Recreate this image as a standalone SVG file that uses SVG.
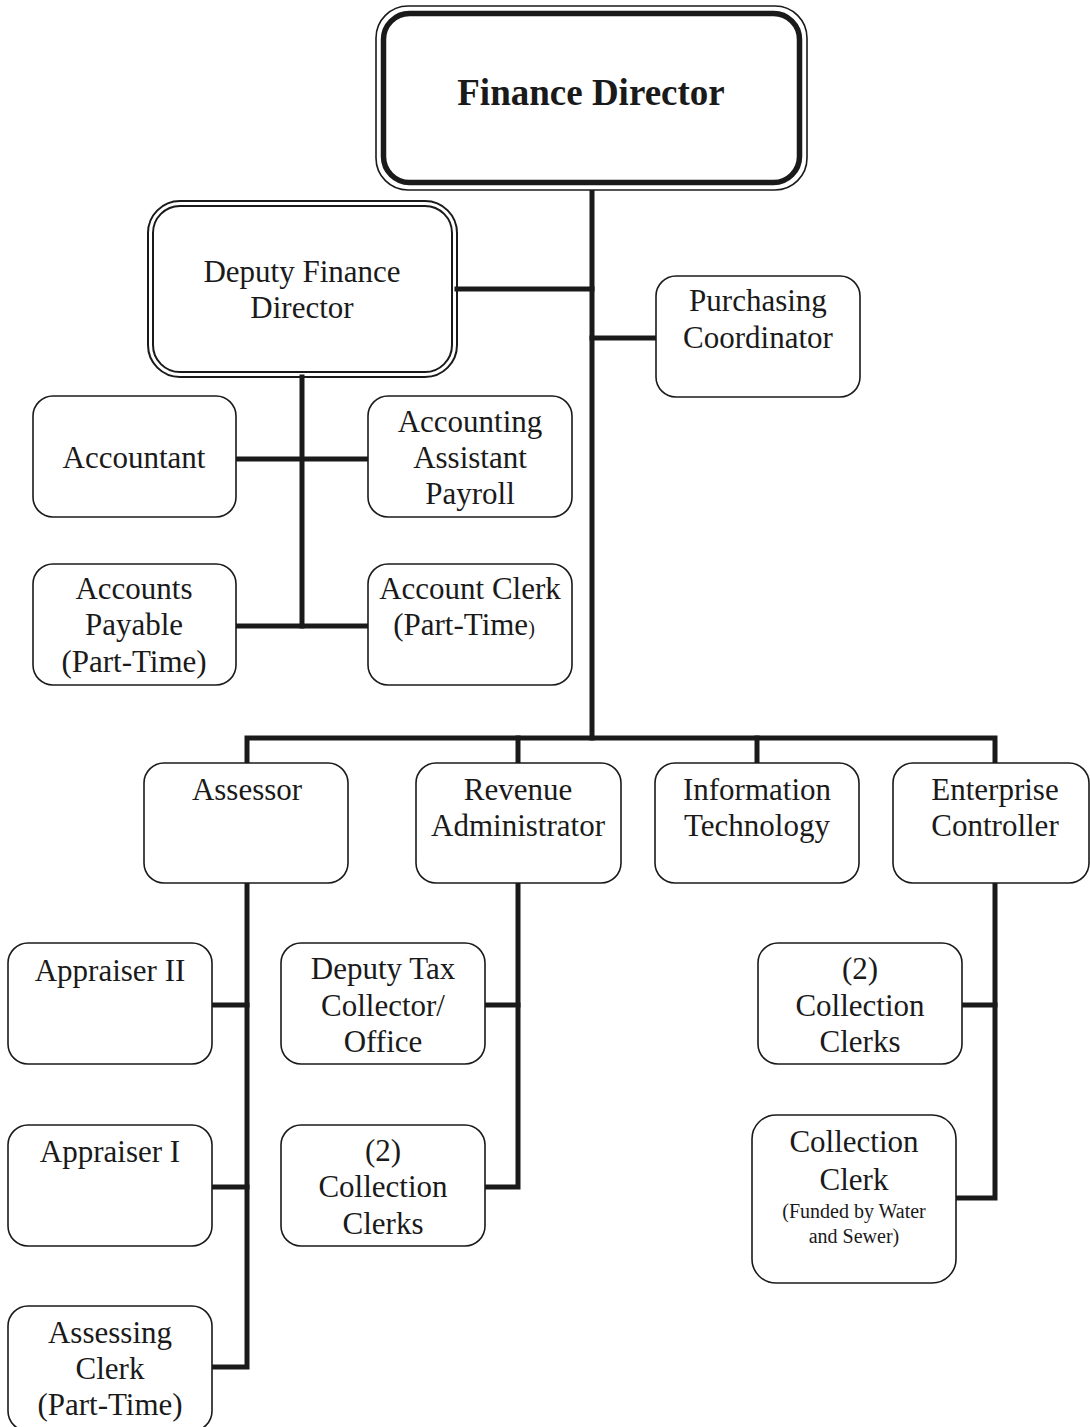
<svg xmlns="http://www.w3.org/2000/svg" width="1090" height="1427" viewBox="0 0 1090 1427">
  <style>
    .box { fill: #ffffff; stroke: #1a1a1a; stroke-width: 1.6; }
    .dbl { fill: none; stroke: #1a1a1a; stroke-width: 2; }
    .lbl { font-family: "Liberation Serif", "Times New Roman", serif; font-size: 31px; fill: #1a1a1a; text-anchor: middle; }
    .small { font-size: 20px; }
    .head { font-family: "Liberation Serif", "Times New Roman", serif; font-size: 37px; font-weight: bold; fill: #1a1a1a; text-anchor: middle; }
    .wire { fill: none; stroke: #1a1a1a; stroke-width: 5; stroke-linecap: square; stroke-linejoin: miter; }
  </style>
  <rect width="1090" height="1427" fill="#ffffff"/>

  <!-- reporting lines -->
  <g id="connectors" class="wire">
    <path d="M592 190 V738"/>
    <path d="M457 289 H592"/>
    <path d="M592 338 H656"/>
    <path d="M302 377 V626"/>
    <path d="M236 459 H368"/>
    <path d="M236 626 H368"/>
    <path d="M247 763 V738 H995 V763"/>
    <path d="M518 738 V763"/>
    <path d="M757 738 V763"/>
    <path d="M247 883 V1367 H212"/>
    <path d="M212 1005 H247"/>
    <path d="M212 1187 H247"/>
    <path d="M518 883 V1187 H485"/>
    <path d="M485 1005 H518"/>
    <path d="M995 883 V1198 H956"/>
    <path d="M962 1005 H995"/>
  </g>

  <g id="finance-director">
    <rect x="376" y="6" width="431" height="184" rx="32" fill="#ffffff" stroke="#1a1a1a" stroke-width="1.6"/>
    <rect x="383.5" y="13.5" width="416" height="169" rx="26" fill="none" stroke="#1a1a1a" stroke-width="5.5"/>
    <text class="head" x="591" y="105">Finance Director</text>
  </g>

  <g id="deputy-finance-director">
    <rect x="148" y="201" width="309" height="176" rx="32" fill="#ffffff" class="dbl"/>
    <rect x="153" y="206" width="299" height="166" rx="27" class="dbl"/>
    <text class="lbl" x="302" y="282">Deputy Finance</text>
    <text class="lbl" x="302" y="318">Director</text>
  </g>

  <g id="purchasing-coordinator">
    <rect class="box" x="656" y="276" width="204" height="121" rx="20"/>
    <text class="lbl" x="758" y="311">Purchasing</text>
    <text class="lbl" x="758" y="348">Coordinator</text>
  </g>

  <g id="accountant">
    <rect class="box" x="33" y="396" width="203" height="121" rx="20"/>
    <text class="lbl" x="134" y="468">Accountant</text>
  </g>

  <g id="accounting-assistant-payroll">
    <rect class="box" x="368" y="396" width="204" height="121" rx="20"/>
    <text class="lbl" x="470" y="432">Accounting</text>
    <text class="lbl" x="470" y="468">Assistant</text>
    <text class="lbl" x="470" y="504">Payroll</text>
  </g>

  <g id="accounts-payable">
    <rect class="box" x="33" y="564" width="203" height="121" rx="20"/>
    <text class="lbl" x="134" y="599">Accounts</text>
    <text class="lbl" x="134" y="635">Payable</text>
    <text class="lbl" x="134" y="672">(Part-Time)</text>
  </g>

  <g id="account-clerk">
    <rect class="box" x="368" y="564" width="204" height="121" rx="20"/>
    <text class="lbl" x="470" y="599">Account Clerk</text>
    <text class="lbl" x="464" y="635">(Part-Time<tspan class="small">)</tspan></text>
  </g>

  <g id="assessor">
    <rect class="box" x="144" y="763" width="204" height="120" rx="20"/>
    <text class="lbl" x="247" y="800">Assessor</text>
  </g>

  <g id="revenue-administrator">
    <rect class="box" x="416" y="763" width="205" height="120" rx="20"/>
    <text class="lbl" x="518" y="800">Revenue</text>
    <text class="lbl" x="518" y="836">Administrator</text>
  </g>

  <g id="information-technology">
    <rect class="box" x="655" y="763" width="204" height="120" rx="20"/>
    <text class="lbl" x="757" y="800">Information</text>
    <text class="lbl" x="757" y="836">Technology</text>
  </g>

  <g id="enterprise-controller">
    <rect class="box" x="893" y="763" width="196" height="120" rx="20"/>
    <text class="lbl" x="995" y="800">Enterprise</text>
    <text class="lbl" x="995" y="836">Controller</text>
  </g>

  <g id="appraiser-ii">
    <rect class="box" x="8" y="943" width="204" height="121" rx="20"/>
    <text class="lbl" x="110" y="981">Appraiser II</text>
  </g>

  <g id="appraiser-i">
    <rect class="box" x="8" y="1125" width="204" height="121" rx="20"/>
    <text class="lbl" x="110" y="1162">Appraiser I</text>
  </g>

  <g id="assessing-clerk">
    <rect class="box" x="8" y="1306" width="204" height="125" rx="20"/>
    <text class="lbl" x="110" y="1343">Assessing</text>
    <text class="lbl" x="110" y="1379">Clerk</text>
    <text class="lbl" x="110" y="1415">(Part-Time)</text>
  </g>

  <g id="deputy-tax-collector">
    <rect class="box" x="281" y="943" width="204" height="121" rx="20"/>
    <text class="lbl" x="383" y="979">Deputy Tax</text>
    <text class="lbl" x="383" y="1016">Collector/</text>
    <text class="lbl" x="383" y="1052">Office</text>
  </g>

  <g id="revenue-collection-clerks">
    <rect class="box" x="281" y="1125" width="204" height="121" rx="20"/>
    <text class="lbl" x="383" y="1161">(2)</text>
    <text class="lbl" x="383" y="1197">Collection</text>
    <text class="lbl" x="383" y="1234">Clerks</text>
  </g>

  <g id="enterprise-collection-clerks">
    <rect class="box" x="758" y="943" width="204" height="121" rx="20"/>
    <text class="lbl" x="860" y="979">(2)</text>
    <text class="lbl" x="860" y="1016">Collection</text>
    <text class="lbl" x="860" y="1052">Clerks</text>
  </g>

  <g id="water-sewer-collection-clerk">
    <rect class="box" x="752" y="1115" width="204" height="168" rx="24"/>
    <text class="lbl" x="854" y="1152">Collection</text>
    <text class="lbl" x="854" y="1190">Clerk</text>
    <text class="lbl small" x="854" y="1218">(Funded by Water</text>
    <text class="lbl small" x="854" y="1243">and Sewer)</text>
  </g>
</svg>
